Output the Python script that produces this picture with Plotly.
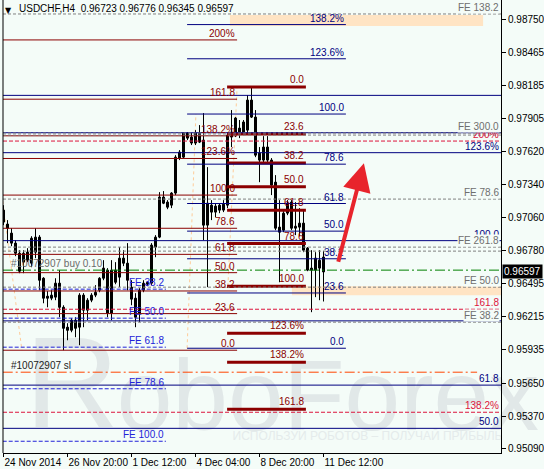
import plotly.graph_objects as go

# ---------------- data ----------------
bar_index = list(range(81))
opens = [0.97123,0.97004,0.96927,0.96842,0.96756,0.96680,0.96765,0.96671,0.96765,0.96893,
         0.96543,0.96390,0.96373,0.96382,0.96501,0.96296,0.96126,0.96100,0.96186,0.96126,
         0.96399,0.96271,0.96356,0.96399,0.96441,0.96543,0.96612,0.96245,0.96612,0.96552,
         0.96714,0.96671,0.96467,0.96373,0.96245,0.96441,0.96492,0.96501,0.96808,0.96893,
         0.97234,0.97191,0.97165,0.97268,0.97566,0.97574,0.97779,0.97745,0.97694,0.97702,
         0.97719,0.96995,0.97165,0.97106,0.97165,0.97123,0.97165,0.97745,0.97779,0.97821,
         0.97787,0.97804,0.98060,0.97915,0.97608,0.97549,0.97660,0.97549,0.97361,0.96978,
         0.96952,0.97097,0.97191,0.96969,0.96978,0.97012,0.96799,0.96629,0.96612,0.96629,
         0.96723]
highs = [0.97165,0.97038,0.96969,0.96867,0.96782,0.96782,0.96799,0.96901,0.96969,0.96910,
         0.96552,0.96433,0.96441,0.96543,0.96612,0.96313,0.96160,0.96203,0.96211,0.96416,
         0.96416,0.96373,0.96416,0.96484,0.96552,0.96697,0.96629,0.96697,0.96680,0.96808,
         0.96782,0.96842,0.96526,0.96416,0.96458,0.96526,0.96518,0.96842,0.96910,0.97276,
         0.97285,0.97208,0.97276,0.97591,0.97634,0.97787,0.97787,0.97779,0.97804,0.97847,
         0.97949,0.97489,0.97208,0.97182,0.97182,0.97208,0.97779,0.97975,0.97915,0.97890,
         0.97890,0.98103,0.98171,0.97975,0.97660,0.97753,0.97753,0.97566,0.97421,0.97208,
         0.97114,0.97208,0.97208,0.97191,0.97140,0.97123,0.96808,0.96782,0.96765,0.96782,
         0.96776]
lows = [0.96995,0.96842,0.96816,0.96731,0.96586,0.96586,0.96680,0.96637,0.96714,0.96441,
        0.96330,0.96296,0.96356,0.96356,0.96211,0.95930,0.96015,0.96083,0.96041,0.95973,
        0.96126,0.96186,0.96339,0.96382,0.96424,0.96526,0.96211,0.96186,0.96492,0.96467,
        0.96646,0.96441,0.96313,0.96126,0.96169,0.96424,0.96475,0.96484,0.96722,0.96884,
        0.97174,0.97131,0.97140,0.97251,0.97549,0.97566,0.97719,0.97677,0.97677,0.97694,
        0.96867,0.96467,0.97038,0.97063,0.97097,0.97106,0.97140,0.97660,0.97745,0.97736,
        0.97762,0.97779,0.97907,0.97574,0.97361,0.97532,0.97532,0.97251,0.96952,0.96509,
        0.96935,0.97080,0.96952,0.96910,0.96901,0.96765,0.96603,0.96254,0.96382,0.96356,
        0.96345]
closes = [0.97021,0.96969,0.96842,0.96756,0.96603,0.96756,0.96697,0.96884,0.96893,0.96526,
          0.96373,0.96373,0.96399,0.96501,0.96296,0.96117,0.96100,0.96186,0.96117,0.96399,
          0.96271,0.96356,0.96399,0.96424,0.96543,0.96629,0.96245,0.96612,0.96509,0.96714,
          0.96671,0.96526,0.96365,0.96211,0.96441,0.96501,0.96509,0.96825,0.96893,0.97234,
          0.97182,0.97148,0.97268,0.97574,0.97617,0.97779,0.97736,0.97694,0.97779,0.97779,
          0.96995,0.97182,0.97106,0.97157,0.97123,0.97174,0.97762,0.97787,0.97907,0.97779,
          0.97873,0.98060,0.97915,0.97591,0.97549,0.97660,0.97549,0.97336,0.96969,0.96935,
          0.97097,0.97182,0.96969,0.96986,0.97012,0.96782,0.96612,0.96612,0.96714,0.96697,
          0.96597]

x_tick_idx = [0, 16, 32, 48, 64, 80]
x_tick_labels = ["24 Nov 2014", "26 Nov 20:00", "1 Dec 12:00", "4 Dec 04:00",
                 "8 Dec 20:00", "11 Dec 12:00"]
y_tick_vals = [0.98750, 0.98465, 0.98185, 0.97905, 0.97620, 0.97340, 0.97060,
               0.96780, 0.96495, 0.96215, 0.95935, 0.95650, 0.95370, 0.95090]
y_tick_labels = ["%.5f" % v for v in y_tick_vals]

title_text = "USDCHF,H4  0.96723 0.96776 0.96345 0.96597"
last_price = 0.96597

# Fibonacci retracement groups (0 and 100 anchors)
fib_ratios = [0, 23.6, 38.2, 50, 61.8, 78.6, 100, 123.6, 138.2, 161.8, 200]
fib_names = ["0.0", "23.6", "38.2", "50.0", "61.8", "78.6", "100.0",
             "123.6%", "138.2%", "161.8", "200%"]
fibA_zero, fibA_hundred = 0.95930, 0.97251   # thin maroon, left
fibB_zero, fibB_hundred = 0.98171, 0.96475   # thick maroon, middle
fibC_zero, fibC_hundred = 0.95947, 0.97941   # navy, middle

# dotted fibo trend lines: (bar0, price0, bar1, price1)
fib_trend = [(-0.4, 0.97251, 4.6, 0.95930),
             (45.9, 0.95947, 48.1, 0.97941),
             (56.1, 0.96475, 58.4, 0.98171)]

# full width navy levels
navy_levels = [0.95265, 0.95633, 0.96180, 0.96863, 0.97612, 0.97782, 0.98100]
navy_labels = ["50.0", "61.8", "", "100.0", "123.6%", "138.2%", ""]
# full width crimson dashed levels
crimson_levels = [0.95402, 0.96279, 0.97711]
crimson_labels = ["138.2%", "161.8", "200%"]
# full width grey dashed expansion levels
fe_grey_levels = [0.98793, 0.97779, 0.97762, 0.97217, 0.96808, 0.96774, 0.96467, 0.96169]
fe_grey_labels = ["FE 138.2", "FE 300.0", "", "FE 78.6", "FE 261.8", "", "FE 50.0", "FE 38.2"]
# blue dashed expansion levels (left)
fe_blue_levels = [0.96450, 0.96203, 0.95956, 0.95602, 0.95155]
fe_blue_labels = ["FE 38.2", "FE 50.0", "FE 61.8", "FE 78.6", "FE 100.0"]

buy_price = 0.96612
sl_price = 0.95743
zone_top = (0.98784, 0.98691)
zone_mid = (0.96475, 0.96399)

# ---------------- style ----------------
BG = "#F4FCF8"
MAROON = "#8B0000"
NAVY = "#000080"
CRIMSON = "#DC143C"
GREY = "#808080"
BLUE = "#2222D8"
PEACH = "#FFE4C4"
FONT = "Liberation Sans, Arial, sans-serif"
WM = "#E1E8E8"

fig = go.Figure()

# watermark (below everything)
fig.add_trace(go.Scatter(x=[17.1], y=[0.95551], mode="text", text=["R"],
                         textfont=dict(size=130, color=WM, family=FONT),
                         cliponaxis=False, hoverinfo="skip", showlegend=False))
fig.add_trace(go.Scatter(x=[81.1], y=[0.95461], mode="text", text=["oboForex"],
                         textfont=dict(size=100, color=WM, family=FONT),
                         cliponaxis=False, hoverinfo="skip", showlegend=False))
fig.add_trace(go.Scatter(x=[91.0], y=[0.95189], mode="text",
                         text=["ИСПОЛЬЗУЙ РОБОТОВ – ПОЛУЧАЙ ПРИБЫЛЬ"],
                         textfont=dict(size=12, color="#E4EBEB", family=FONT),
                         cliponaxis=False, hoverinfo="skip", showlegend=False))

# wicks
wx, wy = [], []
for i, h, l in zip(bar_index, highs, lows):
    wx += [i, i, None]
    wy += [l, h, None]
fig.add_trace(go.Scatter(x=wx, y=wy, mode="lines", line=dict(color="black", width=1),
                         hoverinfo="skip", showlegend=False))
# bodies
body_colors = ["white" if c >= o else "black" for o, c in zip(opens, closes)]
body_len = [c - o if abs(c - o) > 0.00001 else 0.00001 for o, c in zip(opens, closes)]
fig.add_trace(go.Bar(x=bar_index, y=body_len, base=opens, width=0.5,
                     marker=dict(color=body_colors, line=dict(color="black", width=1)),
                     hoverinfo="skip", showlegend=False))

shapes = []
annotations = []


def hline(y, color, width=1, dash="solid", x0=None, x1=None, layer="above"):
    d = dict(type="line", y0=y, y1=y, yref="y", line=dict(color=color, width=width, dash=dash),
             layer=layer)
    if x0 is None and x1 is None:
        d.update(xref="paper", x0=0, x1=1)
    else:
        d.update(xref="x", x0=-0.2 if x0 is None else x0, x1=124.4 if x1 is None else x1)
    shapes.append(d)


def label(text, x, y, color, xref="x", bg=None, yshift=0):
    if not text:
        return
    a = dict(text=text, x=x, y=y, xref=xref, yref="y", xanchor="right", yanchor="bottom",
             showarrow=False, font=dict(size=10, color=color, family=FONT), yshift=yshift,
             borderpad=0)
    if bg:
        a["bgcolor"] = bg
    annotations.append(a)


# rectangles (background)
shapes.append(dict(type="rect", xref="x", yref="y", x0=56.6, x1=119.9, y0=zone_top[1],
                   y1=zone_top[0], fillcolor=PEACH, line=dict(width=0), layer="below"))
shapes.append(dict(type="rect", xref="x", yref="y", x0=72.1, x1=124.4, y0=zone_mid[1],
                   y1=zone_mid[0], fillcolor=PEACH, line=dict(width=0), layer="below"))

# dotted fibo trend lines
for b0, p0, b1, p1 in fib_trend:
    shapes.append(dict(type="line", xref="x", yref="y", x0=b0, y0=p0, x1=b1, y1=p1,
                       line=dict(color="#FFCC99", width=1, dash="dot"), layer="below"))

# group A: thin maroon, from left edge to x~237
for r, n in zip(fib_ratios, fib_names):
    y = fibA_zero + (fibA_hundred - fibA_zero) * r / 100
    hline(y, MAROON, 1, x1=58.4)
    label(n, 58.2, y, MAROON)

# group B: thick maroon
for r, n in zip(fib_ratios[:10], fib_names[:10]):
    y = fibB_zero + (fibB_hundred - fibB_zero) * r / 100
    hline(y, MAROON, 3, x0=55.9, x1=75.6)
    label(n, 75.4, y, MAROON, yshift=1)

# group C: navy
for r, n in zip(fib_ratios[:9], fib_names[:9]):
    y = fibC_zero + (fibC_hundred - fibC_zero) * r / 100
    hline(y, NAVY, 1, x0=45.9, x1=85.6)
    label(n, 85.4, y, NAVY)

# full width navy
for y, n in zip(navy_levels, navy_labels):
    hline(y, NAVY, 1)
    label(n, 124.2, y, NAVY)

# crimson dashed
for y, n in zip(crimson_levels, crimson_labels):
    hline(y, CRIMSON, 1, dash="4px,2px")
    label(n, 124.2, y, CRIMSON)

# blue dashed expansion (left)
for y, n in zip(fe_blue_levels, fe_blue_labels):
    hline(y, BLUE, 1, dash="4px,2px", x1=40.6)
    label(n, 40.4, y, BLUE)

# grey dashed expansion (full width, labels with background)
for y, n in zip(fe_grey_levels, fe_grey_labels):
    hline(y, GREY, 1, dash="3px,2px")
    label(n, 124.2, y, "#6E6E6E", bg=BG)

# order lines
hline(buy_price, "#008000", 1, dash="10px,3px,2px,3px")
hline(sl_price, "#FF4500", 1, dash="10px,3px,2px,3px", x1=118.4)
annotations.append(dict(text="#10072907 buy 0.10", x=1.5, y=buy_price, xref="x", yref="y",
                        xanchor="left", yanchor="bottom", showarrow=False, borderpad=0,
                        font=dict(size=10, color="#6B6B6B", family=FONT)))
annotations.append(dict(text="#10072907 sl", x=1.5, y=sl_price, xref="x", yref="y",
                        xanchor="left", yanchor="bottom", showarrow=False, borderpad=0,
                        font=dict(size=10, color="#222222", family=FONT)))

# left border
shapes.append(dict(type="line", xref="paper", yref="paper", x0=0, x1=0, y0=0, y1=1,
                   line=dict(color="black", width=1)))

# red arrow
annotations.append(dict(x=90.1, y=0.97523, xref="x", yref="y", ax=-26, ay=100,
                        showarrow=True, arrowhead=2, arrowsize=1.4, arrowwidth=4,
                        arrowcolor="#E8242C", text=""))

# title
annotations.append(dict(text="▼", x=0.012, y=0.992, xref="paper", yref="paper",
                        xanchor="center", yanchor="top", showarrow=False,
                        font=dict(size=8, color="black", family="DejaVu Sans")))
annotations.append(dict(text=title_text, x=3.6, y=0.9955, xref="x", yref="paper",
                        xanchor="left", yanchor="top", showarrow=False, borderpad=0,
                        font=dict(size=10, color="black", family=FONT)))

# current price box
annotations.append(dict(text="%.5f" % last_price, x=1, y=last_price,
                        xref="paper", yref="y", xanchor="left", yanchor="middle",
                        showarrow=False, bgcolor="black", borderpad=1, xshift=1,
                        font=dict(size=10, color="white", family=FONT)))

fig.update_layout(
    width=544, height=469,
    margin=dict(l=3, r=43, t=0, b=16),
    paper_bgcolor=BG, plot_bgcolor=BG,
    showlegend=False, barmode="overlay",
    shapes=shapes, annotations=annotations,
    font=dict(family=FONT, size=10, color="black"),
    xaxis=dict(range=[-0.125, 124.375], showgrid=False, zeroline=False,
               tickvals=x_tick_idx, ticktext=x_tick_labels, ticks="outside", ticklen=3,
               tickcolor="black", showline=True, linecolor="black", linewidth=1,
               ticklabelposition="outside right", tickangle=0,
               tickfont=dict(size=10, color="black"), fixedrange=True),
    yaxis=dict(range=[0.95055, 0.98912], side="right", showgrid=False, zeroline=False,
               tickvals=y_tick_vals, ticktext=y_tick_labels, ticks="outside", ticklen=4,
               tickcolor="black", showline=True, linecolor="black", linewidth=1,
               tickfont=dict(size=10, color="black"), fixedrange=True),
)

fig.write_html("out.html", config={"displayModeBar": False},
               post_script="document.body.style.margin='0';"
                           "document.body.style.overflow='hidden';")
